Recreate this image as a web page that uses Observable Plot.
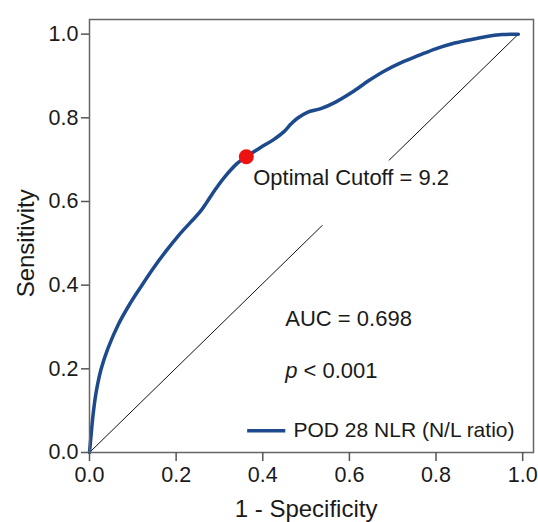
<!DOCTYPE html>
<html><head><meta charset="utf-8">
<script src="https://cdn.jsdelivr.net/npm/d3@7"></script>
<script src="https://cdn.jsdelivr.net/npm/@observablehq/plot@0.6"></script>
<style>body{margin:0;background:#fff}#chart svg{display:block}</style>
</head><body><div id="chart"></div>
<script>
// ROC curve values
const fpr = [0, 0.004, 0.008, 0.015, 0.027, 0.043, 0.066, 0.093, 0.116, 0.147, 0.177, 0.205, 0.233, 0.255, 0.272, 0.29, 0.31, 0.341, 0.362, 0.395, 0.425, 0.449, 0.465, 0.48, 0.503, 0.534, 0.567, 0.606, 0.645, 0.683, 0.722, 0.76, 0.799, 0.837, 0.876, 0.914, 0.953, 0.99];
const tpr = [0, 0.045, 0.088, 0.142, 0.2, 0.25, 0.305, 0.355, 0.392, 0.44, 0.482, 0.518, 0.55, 0.575, 0.6, 0.628, 0.656, 0.691, 0.707, 0.729, 0.748, 0.767, 0.785, 0.799, 0.813, 0.822, 0.837, 0.861, 0.889, 0.913, 0.933, 0.949, 0.965, 0.977, 0.986, 0.994, 0.999, 1.0];
const diagX = [0, 0.99];
const diagY = [0, 1.0];
const cutoffX = [0.362];
const cutoffY = [0.707];
const cutoffLabel = ["Optimal Cutoff = 9.2"];
const labelBox = {x1: 0.36, x2: 0.86, y1: 0.542, y2: 0.697};
const aucText = ["AUC = 0.698"];
const pItalic = ["p"];
const pRest = ["< 0.001"];
const seriesName = ["POD 28 NLR (N/L ratio)"];
const legendLine = {x1: 0.364, x2: 0.452, y: 0.052};
const xTicks = [0, 0.2, 0.4, 0.6, 0.8, 1.0];
const yTicks = [0, 0.2, 0.4, 0.6, 0.8, 1.0];
const xLabel = "1 - Specificity";
const yLabel = "Sensitivity";

const roc = fpr.map((x, i) => ({x, y: tpr[i]}));
const diag = [{x1: diagX[0], y1: diagY[0], x2: diagX[1], y2: diagY[1]}];
const font = "'Liberation Sans', Arial, Helvetica, sans-serif";
const blue = "#1d4a8c";
const fmt = d => d.toFixed(1);

const chart = Plot.plot({
  width: 538,
  height: 522,
  marginLeft: 89,
  marginRight: 5,
  marginTop: 19,
  marginBottom: 70,
  style: {fontFamily: font, color: "#1a1a1a", background: "#fff"},
  x: {domain: [0, 1.025]},
  y: {domain: [0, 1.035]},
  marks: [
    Plot.link(diag, {x1: "x1", y1: "y1", x2: "x2", y2: "y2", stroke: "#111", strokeWidth: 1}),
    Plot.rect([labelBox], {x1: "x1", x2: "x2", y1: "y1", y2: "y2", fill: "white"}),
    Plot.line(roc, {x: "x", y: "y", stroke: blue, strokeWidth: 3.5, curve: "catmull-rom"}),
    Plot.dot(cutoffX.map((x, i) => ({x, y: cutoffY[i]})), {x: "x", y: "y", r: 7.5, fill: "#ee1111", stroke: "none"}),
    Plot.text(cutoffLabel, {x: () => 0.378, y: () => 0.656, text: d => d, textAnchor: "start", fontSize: 22}),
    Plot.text(aucText, {x: () => 0.452, y: () => 0.32, text: d => d, textAnchor: "start", fontSize: 22}),
    Plot.text(pItalic, {x: () => 0.452, y: () => 0.194, text: d => d, textAnchor: "start", fontSize: 22, fontStyle: "italic"}),
    Plot.text(pRest, {x: () => 0.494, y: () => 0.194, text: d => d, textAnchor: "start", fontSize: 22}),
    Plot.link([legendLine], {x1: "x1", x2: "x2", y1: "y", y2: "y", stroke: blue, strokeWidth: 3.5}),
    Plot.text(seriesName, {x: () => 0.471, y: () => 0.052, text: d => d, textAnchor: "start", fontSize: 21}),
    Plot.frame({stroke: "#666", strokeWidth: 1.5}),
    Plot.axisX(xTicks, {tickFormat: fmt, tickSize: 9, tickPadding: 5, fontSize: 21.5, stroke: "#555", strokeWidth: 1.5, label: null}),
    Plot.axisY(yTicks, {tickFormat: fmt, tickSize: 8, tickPadding: 3, fontSize: 21.5, stroke: "#555", strokeWidth: 1.5, label: null}),
    Plot.text([xLabel], {x: () => 0.5, frameAnchor: "bottom", dy: 57, lineAnchor: "middle", textAnchor: "middle", text: d => d, fontSize: 24}),
    Plot.text([yLabel], {y: () => 0.5, frameAnchor: "left", dx: -63, rotate: -90, lineAnchor: "middle", textAnchor: "middle", text: d => d, fontSize: 24})
  ]
});
document.getElementById("chart").appendChild(chart);
</script>
</body></html>
